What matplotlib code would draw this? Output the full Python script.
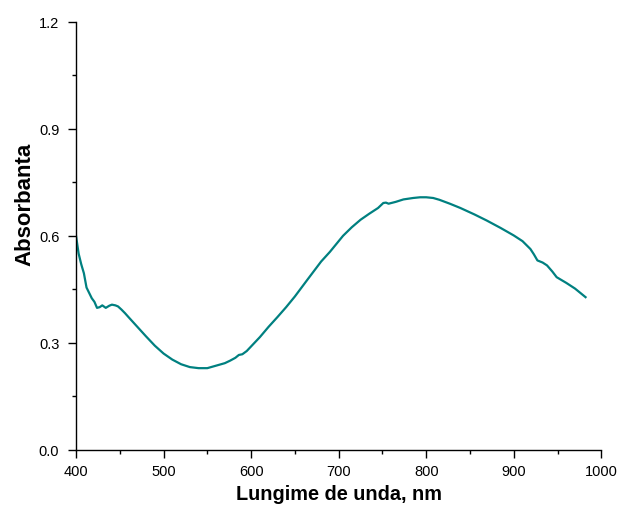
import numpy as np
import matplotlib.pyplot as plt
from matplotlib.ticker import MultipleLocator

# wavelength (nm) and absorbance
wavelength = [400, 403, 406, 409, 412, 415, 418, 421, 424, 427, 430, 434, 438, 441,
              445, 448, 452, 456, 460, 470, 480, 490, 500, 510, 520, 530, 540,
              550, 560, 570, 576, 582, 586, 590, 595, 600, 610, 620, 630, 640,
              650, 664, 680, 690, 705, 715, 725, 735, 745, 751, 754, 757, 765,
              774, 785, 793, 800, 808, 815, 827, 839, 855, 869, 885, 900, 910,
              919, 923, 927, 933, 938, 944, 949, 960, 970, 982]
absorbance = [0.600, 0.550, 0.520, 0.495, 0.455, 0.440, 0.425, 0.415, 0.398, 0.400,
              0.405, 0.398, 0.404, 0.407, 0.405, 0.402, 0.393, 0.383, 0.372, 0.345,
              0.318, 0.292, 0.270, 0.253, 0.240, 0.232, 0.229, 0.229, 0.236, 0.243,
              0.250, 0.258, 0.266, 0.268, 0.277, 0.290, 0.316, 0.345, 0.372, 0.400,
              0.430, 0.476, 0.528, 0.555, 0.600, 0.624, 0.645, 0.662, 0.678, 0.692,
              0.693, 0.690, 0.695, 0.702, 0.706, 0.708, 0.708, 0.706, 0.701, 0.690,
              0.678, 0.660, 0.643, 0.622, 0.601, 0.585, 0.563, 0.548, 0.531, 0.525,
              0.517, 0.500, 0.484, 0.468, 0.452, 0.428]


def PlotSpectrum():
    plt.rcParams['font.family'] = ['Liberation Sans', 'DejaVu Sans']
    fig = plt.figure(figsize=(6.18, 5.06), dpi=100)
    ax = fig.add_axes([0.123, 0.109, 0.850, 0.846])

    ax.plot(wavelength, absorbance, linestyle="-", linewidth=1.6, color="#008080")

    ax.set_xlim(400, 1000)
    ax.set_ylim(0.0, 1.2)
    ax.xaxis.set_major_locator(MultipleLocator(100))
    ax.xaxis.set_minor_locator(MultipleLocator(50))
    ax.yaxis.set_major_locator(MultipleLocator(0.3))
    ax.yaxis.set_minor_locator(MultipleLocator(0.15))
    ax.yaxis.set_major_formatter(plt.FormatStrFormatter('%.1f'))

    ax.spines['top'].set_visible(False)
    ax.spines['right'].set_visible(False)
    for s in ('left', 'bottom'):
        ax.spines[s].set_linewidth(1.0)
    ax.tick_params(which='major', direction='out', length=6, width=1.0, labelsize=10.5)
    ax.tick_params(which='minor', direction='out', length=3, width=1.0)
    ax.tick_params(axis='x', which='major', pad=4.5)
    ax.tick_params(axis='y', which='major', pad=6)

    ax.set_xlabel("Lungime de unda, nm", fontsize=14.3, fontweight='bold', labelpad=4)
    ax.set_ylabel("Absorbanta", fontsize=16, fontweight='bold')
    ax.yaxis.set_label_coords(-0.078, 0.575)

    fig.savefig('out.png', dpi=100)


if __name__ == "__main__":
    PlotSpectrum()
